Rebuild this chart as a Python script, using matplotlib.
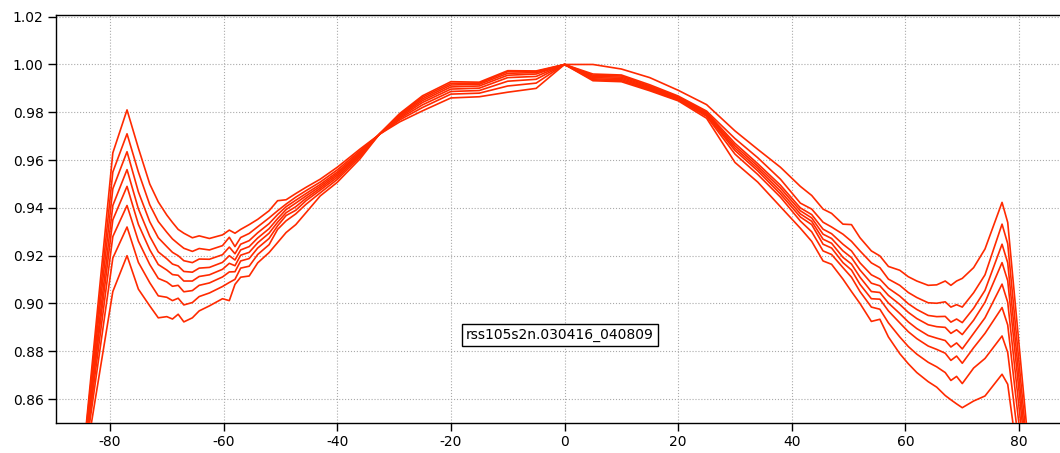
import matplotlib
matplotlib.use("Agg")
import matplotlib.pyplot as plt
import matplotlib.ticker as ticker

plt.rcParams['axes.unicode_minus'] = False

# angle grid shared by all curves
angles = [-86, -79.5, -77, -75, -73, -71.5, -70, -69, -68, -67, -65.5, -64.3, -62.5, -60.2,
          -59, -58, -57, -55.5, -54, -52, -50.5, -49, -47.3, -45.5, -43, -40, -36, -32.5,
          -29, -25, -20, -15, -10, -5, 0,
          5, 10, 15, 20, 25, 30, 34, 38, 41.5, 43.5, 45.5, 47, 49, 50.5, 52, 54, 55.5, 57,
          59, 60.5, 62, 64, 65.5, 67, 68, 69, 70, 72, 74, 77, 78, 84]

c1 = [.805, .963, .981, .965, .950, .9425, .937, .9339, .931, .9294, .9275, .9283, .9272, .9287,
      .9307, .9294, .931, .933, .9352, .9388, .943, .9434, .946, .9486, .952, .957, .9646, .9709,
      .976, .9806, .986, .9865, .9884, .990, 1.0,
      1.0, .9981, .9945, .9892, .9832, .9722, .9645, .957, .949, .9452, .9395, .9377, .9332, .933,
      .9275, .922, .9199, .9155, .9139, .9112, .9094, .9076, .9078, .9094, .9076, .9094, .9105,
      .915, .9228, .9423, .9339, .78]
c2 = [.806, .955, .971, .955, .9413, .9343, .9298, .927, .925, .9231, .9218, .923, .9224, .9242,
      .9277, .9238, .9276, .9293, .9321, .9358, .9388, .9416, .9445, .9472, .9508, .9559, .9639, .9709,
      .9768, .982, .9876, .988, .991, .9922, 1.0,
      .996, .9956, .9915, .9868, .9805, .969, .961, .952, .942, .9395, .934, .932, .929, .926,
      .922, .917, .915, .9102, .9076, .9046, .9025, .9003, .9001, .9007, .8985, .8995, .8985,
      .9045, .912, .9332, .925, .775]
c3 = [.807, .948, .9635, .9467, .9342, .9275, .9238, .9214, .92, .9179, .9171, .9186, .9185, .9204,
      .9236, .9208, .9248, .9263, .9296, .9334, .9372, .9405, .9432, .946, .9498, .955, .9633, .971,
      .9774, .9831, .9887, .9891, .993, .9938, 1.0,
      .9955, .9952, .991, .9864, .98, .967, .9585, .9495, .940, .9372, .9311, .9292, .9248, .922,
      .917, .912, .9102, .9064, .9031, .8999, .8975, .895, .8945, .8946, .8922, .8935, .892,
      .898, .9055, .9248, .917, .772]
c4 = [.807, .941, .956, .9396, .9281, .9216, .9187, .9165, .9157, .9134, .9131, .9148, .9151, .9172,
      .92, .9182, .9224, .9238, .9274, .9313, .9355, .9393, .942, .945, .949, .9543, .9628, .971,
      .9779, .9841, .9897, .9901, .9945, .995, 1.0,
      .995, .9947, .9906, .986, .9796, .966, .9575, .9483, .9388, .9358, .929, .9272, .922, .9192,
      .914, .9085, .9074, .9034, .8996, .8963, .8937, .8911, .8903, .89, .8875, .889, .887,
      .893, .9005, .9171, .9095, .77]
c5 = [.808, .935, .949, .9331, .9225, .9163, .914, .9121, .9118, .9094, .9094, .9113, .912, .9143,
      .9168, .9158, .9202, .9214, .9254, .9294, .934, .938, .9405, .944, .9482, .9536, .9624, .971,
      .9784, .9849, .9906, .991, .9955, .996, 1.0,
      .9945, .9942, .9902, .9857, .9792, .965, .9565, .947, .9375, .9344, .9269, .9252, .9193, .9165,
      .911, .905, .9046, .9002, .8958, .8923, .8895, .8866, .8855, .8845, .8818, .8835, .881,
      .8875, .894, .9081, .9005, .768]
c6 = [.808, .928, .941, .9261, .9163, .9105, .909, .9072, .9076, .9049, .9054, .9076, .9086, .9111,
      .9132, .9133, .9178, .9188, .9232, .9272, .9325, .9368, .939, .943, .9474, .9528, .9619, .971,
      .9788, .9856, .9914, .9917, .9963, .9966, 1.0,
      .994, .9937, .9898, .9854, .9788, .964, .9555, .9458, .9362, .933, .9248, .9232, .9171, .914,
      .908, .902, .9018, .8969, .8919, .8882, .8853, .8822, .8808, .8792, .8762, .878, .875,
      .8815, .8875, .8983, .891, .765]
c7 = [.809, .919, .932, .9172, .9087, .9032, .9026, .9012, .9022, .8994, .9004, .9029, .9044, .9071,
      .9088, .9101, .9148, .9156, .9205, .9246, .931, .9346, .9375, .9415, .9463, .9519, .9613, .9711,
      .9792, .9863, .9921, .9922, .997, .997, 1.0,
      .9936, .9932, .9894, .9851, .9783, .9625, .954, .9445, .9345, .930, .922, .9205, .915, .911,
      .905, .8985, .8976, .8919, .886, .882, .8788, .8754, .8735, .8711, .8678, .8695, .8665,
      .873, .877, .8864, .8795, .762]
c8 = [.810, .905, .920, .906, .899, .894, .8945, .8935, .8955, .8923, .894, .8969, .899, .902,
      .9012, .908, .911, .9115, .917, .9213, .9255, .9297, .933, .938, .945, .9507, .9605, .9711,
      .9795, .9869, .9928, .9926, .9974, .9973, 1.0,
      .9932, .9928, .989, .9848, .9775, .959, .9508, .9405, .9315, .926, .9178, .9164, .9102, .905,
      .900, .8925, .8934, .886, .879, .8748, .8711, .8673, .865, .8615, .8597, .858, .8564,
      .8592, .8613, .8704, .8662, .76]
curves = [c1, c2, c3, c4, c5, c6, c7, c8]

label = "rss105s2n.030416_040809"

fig = plt.figure(figsize=(10.6, 4.53), dpi=100)
ax = fig.add_axes([56 / 1060, 30 / 453, 1 - 56 / 1060, 408 / 453])

for c in curves:
    ax.plot(angles, c, color='#ff2a00', linewidth=1.2, zorder=3)

ax.set_xlim(-89.5, 87.2)
ax.set_ylim(0.85, 1.0207)
ax.xaxis.set_major_locator(ticker.MultipleLocator(20))
ax.yaxis.set_major_locator(ticker.MultipleLocator(0.02))
ax.yaxis.set_major_formatter(ticker.FormatStrFormatter('%0.2f'))
ax.tick_params(direction='out', length=6, width=1, labelsize=10, pad=3)
ax.grid(which='major', color='#aaaaaa', linestyle=':', linewidth=0.8, zorder=0)
ax.spines['right'].set_visible(False)
for s in ['left', 'top', 'bottom']:
    ax.spines[s].set_linewidth(1)

ax.text(-0.8, 0.8869, label, ha='center', va='center', fontsize=10, zorder=5,
        bbox=dict(boxstyle='square,pad=0.3', fc='white', ec='black', lw=1))

fig.savefig("out.png", dpi=100)
